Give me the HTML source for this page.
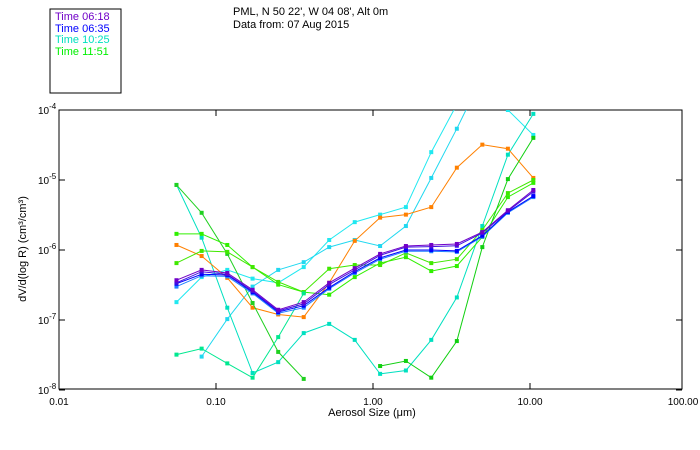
<!DOCTYPE html>
<html><head><meta charset="utf-8"><style>
body{margin:0;background:#fff}
svg{display:block;font-family:"Liberation Sans",sans-serif}
</style></head><body>
<svg id="chart" width="700" height="450" viewBox="0 0 700 450">
<rect x="50" y="9" width="71" height="84" fill="none" stroke="#000" stroke-width="1"/>
<g font-size="11">
<text x="55" y="20" fill="#7000c8">Time 06:18</text>
<text x="55" y="32" fill="#0000ff">Time 06:35</text>
<text x="55" y="43" fill="#00e0c0">Time 10:25</text>
<text x="55" y="55" fill="#00f000">Time 11:51</text>
</g>
<text x="233" y="15" font-size="11">PML, N 50 22', W 04 08', Alt 0m</text>
<text x="233" y="28" font-size="11">Data from: 07 Aug 2015</text>
<rect x="59" y="110" width="623" height="279" fill="none" stroke="#000" stroke-width="1"/>
<g id="axes"></g>
<g id="series"></g>
<text x="372" y="416" font-size="11" text-anchor="middle">Aerosol Size (μm)</text>
<text transform="translate(26,249) rotate(-90)" font-size="11" text-anchor="middle">dV/d(log R) (cm³/cm³)</text>
</svg>
<script>
const sizes=[0.056,0.081,0.118,0.171,0.249,0.362,0.526,0.765,1.11,1.62,2.35,3.42,4.97,7.23,10.5];
const xTicks=[0.01,0.1,1,10,100];
const xTickLabels=["0.01","0.10","1.00","10.00","100.00"];
const yTickExps=[-4,-5,-6,-7,-8];
const sPurple=[3.7e-7,5.2e-7,4.7e-7,2.7e-7,1.4e-7,1.8e-7,3.4e-7,5.5e-7,8.8e-7,1.14e-6,1.18e-6,1.22e-6,1.8e-6,3.7e-6,7.2e-6];
const sPurple2=[3.4e-7,4.9e-7,4.5e-7,2.6e-7,1.35e-7,1.7e-7,3.2e-7,5.2e-7,8.4e-7,1.1e-6,1.12e-6,1.15e-6,1.75e-6,3.6e-6,6.8e-6];
const sBlue=[3.3e-7,4.5e-7,4.4e-7,2.5e-7,1.3e-7,1.6e-7,2.9e-7,4.9e-7,7.7e-7,1.0e-6,1.0e-6,9.7e-7,1.6e-6,3.5e-6,5.9e-6];
const sLightBlue=[3.0e-7,4.3e-7,4.2e-7,2.4e-7,1.25e-7,1.5e-7,2.8e-7,4.7e-7,7.4e-7,9.6e-7,9.6e-7,9.4e-7,1.55e-6,3.4e-6,5.7e-6];
const sOrange=[1.18e-6,8.2e-7,4.0e-7,1.5e-7,1.2e-7,1.1e-7,3.4e-7,1.35e-6,2.9e-6,3.2e-6,4.1e-6,1.5e-5,3.2e-5,2.8e-5,1.07e-5];
const sTurq=[8.5e-6,1.5e-6,1.5e-7,1.75e-8,2.5e-8,6.5e-8,8.8e-8,5.2e-8,1.7e-8,1.9e-8,5.2e-8,2.1e-7,2.2e-6,2.3e-5,8.8e-5];
const sCyanA=[1.8e-7,4.1e-7,5.2e-7,3.9e-7,3.4e-7,5.7e-7,1.39e-6,2.5e-6,3.2e-6,4.1e-6,2.5e-5,1.2e-4,2.5e-4,1.0e-4,4.4e-5];
const sCyanB=[null,3.0e-8,1.03e-7,3.0e-7,5.2e-7,6.7e-7,1.1e-6,1.39e-6,1.14e-6,2.2e-6,1.07e-5,5.4e-5,3e-4,null,null];
const sGreen1=[8.5e-6,3.4e-6,8.8e-7,1.75e-7,3.5e-8,1.44e-8,null,null,null,null,null,null,null,null,null];
const sGreen2=[1.7e-6,1.7e-6,1.18e-6,5.7e-7,3.2e-7,2.5e-7,2.3e-7,4.1e-7,6.5e-7,7.9e-7,5.0e-7,5.9e-7,1.54e-6,5.7e-6,9.1e-6];
const sGreen3=[6.5e-7,9.7e-7,9.4e-7,5.7e-7,3.5e-7,2.5e-7,5.4e-7,6.1e-7,6.1e-7,9.1e-7,6.5e-7,7.4e-7,1.93e-6,6.5e-6,1.0e-5];
const sGreen4=[3.2e-8,3.9e-8,2.4e-8,1.5e-8,5.7e-8,2.4e-7,null,null,null,null,null,null,null,null,null];
const sGreen5=[null,null,null,null,null,null,null,null,2.2e-8,2.6e-8,1.5e-8,5.0e-8,1.1e-6,1.03e-5,4.0e-5];
const seriesList=[
 ["series-cyan-a",sCyanA,"#20e8f0"],["series-cyan-b",sCyanB,"#20d8f0"],["series-turquoise",sTurq,"#00e0c0"],
 ["series-orange",sOrange,"#ff8000"],["series-green-1",sGreen1,"#20d020"],["series-green-2",sGreen2,"#30f000"],
 ["series-green-3",sGreen3,"#40e800"],["series-green-4",sGreen4,"#00e890"],["series-green-5",sGreen5,"#10d010"],
 ["series-lightblue",sLightBlue,"#2080ff"],["series-blue",sBlue,"#0000ff"],["series-purple-2",sPurple2,"#4010e0"],["series-purple",sPurple,"#7000c8"]];
const X0=59,X1=682,Y0=110,Y1=389;
const xs=v=>X0+(Math.log10(v)+2)*157;
const ys=v=>Y0+(-4-Math.log10(v))*70;
const NS="http://www.w3.org/2000/svg";
function mk(t,a,p){const e=document.createElementNS(NS,t);for(const k in a)e.setAttribute(k,a[k]);p.appendChild(e);return e;}
const axes=document.getElementById('axes');
xTicks.forEach((t,i)=>{const x=xs(t);
 if(x<X1-1){
 const l1=mk('line',{x1:x,x2:x,y1:Y1,y2:Y1-6,stroke:'#000'},axes);
 
 
 const l2=mk('line',{x1:x,x2:x,y1:Y0,y2:Y0+6,stroke:'#000'},axes);
 
 
 }
 const tx=mk('text',{x:Math.min(x,683),y:Y1+16,'font-size':10,'text-anchor':'middle'},axes);tx.textContent=xTickLabels[i];
 
 
});
yTickExps.forEach(e=>{const y=ys(Math.pow(10,e));
 const l=mk('line',{x1:X0,x2:X0+6,y1:y,y2:y,stroke:'#000'},axes);
 
 
 const l2=mk('line',{x1:X1,x2:X1-6,y1:y,y2:y,stroke:'#000'},axes);
 
 
 const tx=mk('text',{x:38,y:y+4,'font-size':10},axes);tx.textContent='10';
 
 
 const sp=mk('tspan',{dy:-5,'font-size':8},tx);sp.textContent=String(e);
});
const sg=document.getElementById('series');
mk('clipPath',{id:'clip'},sg).appendChild(document.createElementNS(NS,'rect'));
const cr=sg.querySelector('clipPath rect');cr.setAttribute('x',X0);cr.setAttribute('y',Y0);cr.setAttribute('width',X1-X0);cr.setAttribute('height',Y1-Y0);
seriesList.forEach(([name,vals,col])=>{
 const g=mk('g',{'clip-path':'url(#clip)'},sg);
 
 
 let d='',pen=false;
 vals.forEach((v,i)=>{if(v==null){pen=false;return;}d+=(pen?'L':'M')+xs(sizes[i]).toFixed(1)+' '+ys(v).toFixed(1);pen=true;});
 mk('path',{d:d,fill:'none',stroke:col,'stroke-width':1},g);
 vals.forEach((v,i)=>{if(v==null)return;
  const r=mk('rect',{x:xs(sizes[i])-2,y:ys(v)-2,width:4,height:4,fill:col},g);
  
  
 });
});
</script>
</body></html>
